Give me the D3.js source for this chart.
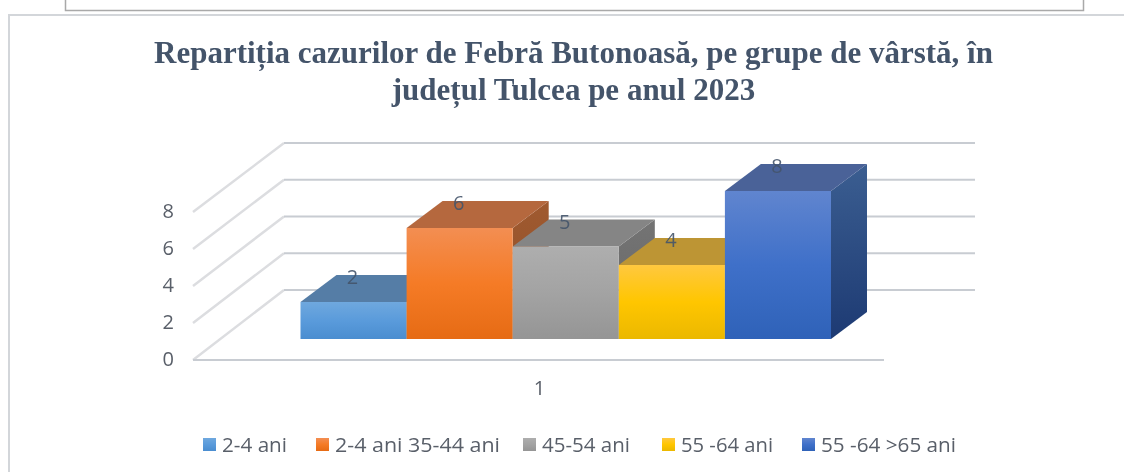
<!DOCTYPE html>
<html><head><meta charset="utf-8">
<script src="https://cdn.jsdelivr.net/npm/d3@7"></script>
<style>html,body{margin:0;padding:0;background:#fff;overflow:hidden}svg{display:block;filter:blur(0.45px)}</style>
</head><body><svg id="c" width="1124" height="472"></svg>
<script>
const titleLines = ["Repartiția cazurilor de Febră Butonoasă, pe grupe de vârstă, în", "județul Tulcea pe anul 2023"];
const seriesNames = ["2-4 ani", "2-4 ani 35-44 ani", "45-54 ani", "55 -64 ani", "55 -64 >65 ani"];
const seriesValues = [2, 6, 5, 4, 8];
const categories = ["1"];
const yTicks = [0, 2, 4, 6, 8];
const frontStops = [["#6fa8de","#5a9bdb","#4a8dd0"],["#f38e52","#f57b26","#e66b14"],["#aeaeae","#a3a3a3","#959595"],["#ffc83f","#ffc600","#ebb800"],["#6085cf","#3f70c9","#2f62b8"]];
const topColors = ["#557da6","#b5683e","#858585","#bd9534","#4a6298"];
const sideColors = [["#41668c","#2e5175"],["#a05a30","#8c4d27"],["#747474","#666666"],["#a37f2a","#8f6f22"],["#3b5e91","#1d3a73"]];
const legendSwatchX = [203, 316, 523, 662, 802];
const legendLabelW = [65, 165, 88, 92, 135];

const svg = d3.select("#c"), ink = "#44546a", axisInk = "#595f69";
const defs = svg.append("defs");

// page furniture
const frame = svg.append("g").attr("fill","none");
frame.append("path").attr("d","M65.5,0V10.5H1083.5V0").attr("stroke","#a9a9a9").attr("stroke-width",1.5);
frame.append("path").attr("d","M9,472V15H1124").attr("stroke","#d3d6da").attr("stroke-width",2);

// title
svg.append("g").selectAll("text").data(titleLines).join("text")
  .attr("x",573.5).attr("y",(d,i)=>63+i*37).attr("text-anchor","middle")
  .attr("font-family","'Liberation Serif'").attr("font-weight","bold").attr("font-size",31).attr("fill",ink)
  .text(d=>d);

// scales: front plane of bars, the front and back of the floor
const band = d3.scaleBand().domain(seriesNames).range([300.5,831]);
const yBar = d3.scaleLinear().domain([0,8]).range([339,191]);
const yFront = d3.scaleLinear().domain([0,8]).range([360,212]);
const yBack = d3.scaleLinear().domain([0,8]).range([290,143]);
const depth = {dx:36, dy:-27};
const wall = {front:193, back:284, right:975, floorRight:884};

// gridlines on walls
const g = svg.append("g");
g.selectAll(".w").data(yTicks).join("line").attr("x1",wall.front).attr("x2",wall.back)
  .attr("y1",d=>yFront(d)).attr("y2",d=>yBack(d)).attr("stroke","#dcdde0").attr("stroke-width",2.5);
g.selectAll(".b").data(yTicks).join("line").attr("x1",wall.back).attr("x2",wall.right)
  .attr("y1",d=>yBack(d)).attr("y2",d=>yBack(d)).attr("stroke","#c8ccd2").attr("stroke-width",2);
g.append("line").attr("x1",wall.front).attr("x2",wall.floorRight).attr("y1",yFront(0)).attr("y2",yFront(0))
  .attr("stroke","#c8ccd2").attr("stroke-width",2);

// axis
const yAxis = d3.axisLeft(yFront).tickValues(yTicks).tickSize(0).tickPadding(0);
const ax = svg.append("g").attr("transform","translate(174,-0.5)").call(yAxis);
ax.select(".domain").remove();
ax.selectAll("text").attr("font-family","'Open Sans'").attr("font-size",20).attr("fill",axisInk);

const xAxis = d3.axisBottom(d3.scaleBand().domain(categories).range([193,884])).tickSize(0).tickPadding(0);
const axb = svg.append("g").attr("transform","translate(1,381)").call(xAxis);
axb.select(".domain").remove();
axb.selectAll("text").attr("font-family","'Open Sans'").attr("font-size",20).attr("fill",axisInk);

// gradients
function grad(id,stops,x2,y2){
  const l = defs.append("linearGradient").attr("id",id).attr("x1",0).attr("y1",0).attr("x2",x2).attr("y2",y2);
  stops.forEach((c,i)=>l.append("stop").attr("offset",i/(stops.length-1)).attr("stop-color",c));
}
seriesNames.forEach((n,i)=>{grad("f"+i,frontStops[i],0,1);grad("s"+i,sideColors[i],0,1);});

// bars
const data = seriesNames.map((name,i)=>({name,i,v:seriesValues[i]}));
const bars = svg.append("g").selectAll("g").data(data).join("g");
const pts = a=>a.map(p=>p.join(",")).join(" ");
bars.append("polygon").attr("fill",d=>`url(#s${d.i})`).attr("points",d=>{
  const x=band(d.name)+band.bandwidth(),t=yBar(d.v),b=yBar(0);
  return pts([[x,t],[x+depth.dx,t+depth.dy],[x+depth.dx,b+depth.dy],[x,b]]);});
bars.append("polygon").attr("fill",d=>topColors[d.i]).attr("points",d=>{
  const x=band(d.name),w=band.bandwidth(),t=yBar(d.v);
  return pts([[x,t],[x+w,t],[x+w+depth.dx,t+depth.dy],[x+depth.dx,t+depth.dy]]);});
bars.append("rect").attr("x",d=>band(d.name)).attr("width",band.bandwidth())
  .attr("y",d=>yBar(d.v)).attr("height",d=>yBar(0)-yBar(d.v)).attr("fill",d=>`url(#f${d.i})`);

// data labels
svg.append("g").selectAll("text").data(data).join("text")
  .attr("x",d=>band(d.name)+band.bandwidth()/2-1).attr("y",d=>yBar(d.v)-18).attr("text-anchor","middle")
  .attr("font-family","'Open Sans'").attr("font-size",20).attr("fill",ink).attr("fill-opacity",.9).text(d=>d.v);

// legend
const leg = svg.append("g").selectAll("g").data(data).join("g")
  .attr("transform",d=>`translate(${legendSwatchX[d.i]},438)`);
leg.append("rect").attr("width",13).attr("height",13).attr("fill",d=>`url(#f${d.i})`);
leg.append("text").attr("x",19).attr("y",14).attr("font-family","'Open Sans'").attr("font-size",20)
  .attr("fill",axisInk).attr("textLength",d=>legendLabelW[d.i]).attr("lengthAdjust","spacingAndGlyphs").text(d=>d.name);
</script></body></html>
